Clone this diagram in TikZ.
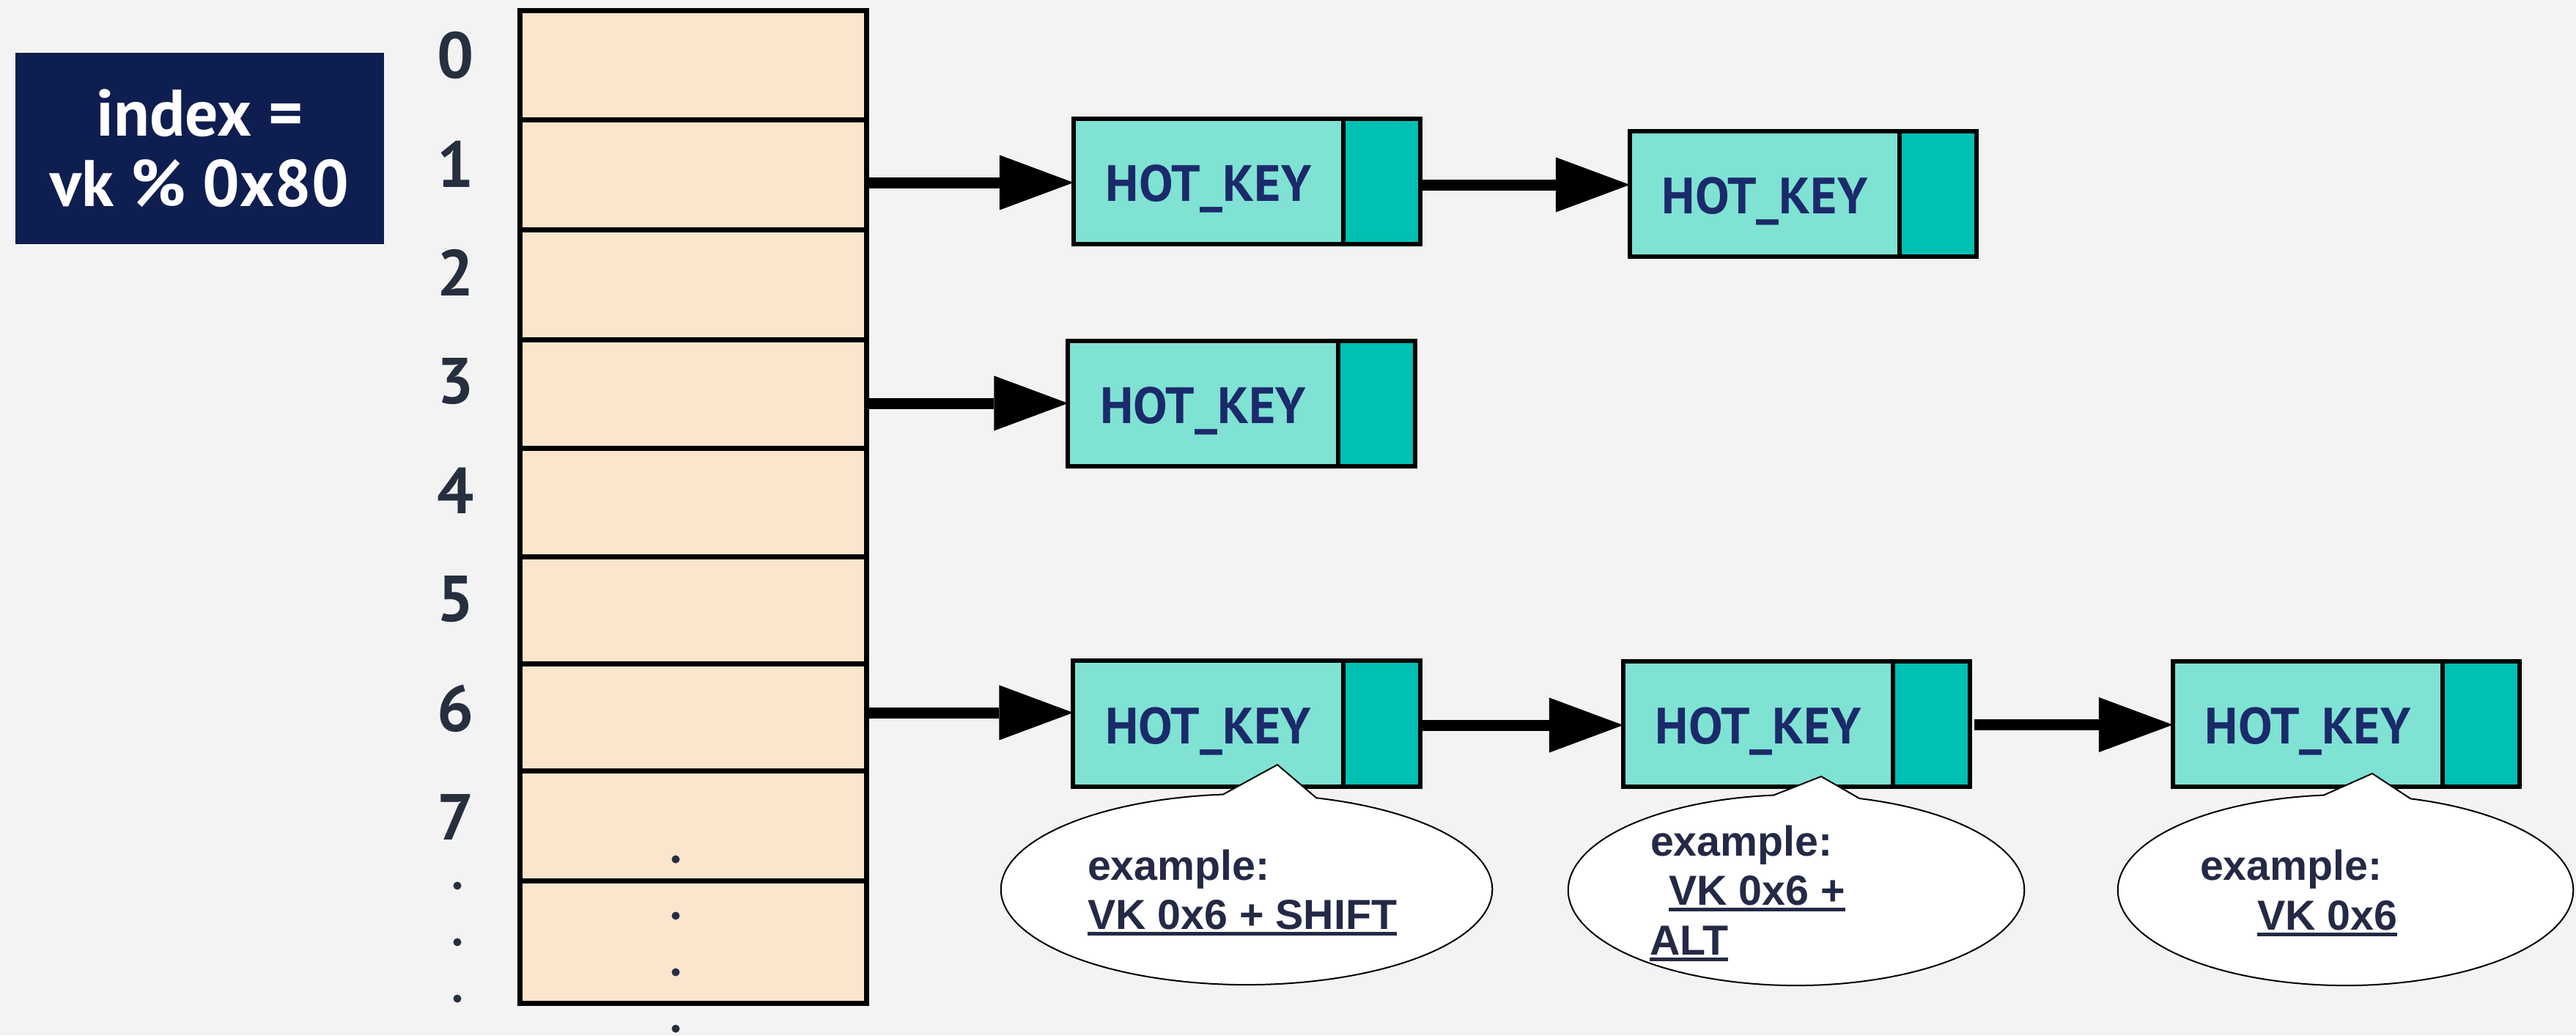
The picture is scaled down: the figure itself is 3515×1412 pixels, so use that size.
\documentclass[tikz,border=0pt]{standalone}
\usepackage{fontspec}
\setmainfont{PT Sans}
\newfontfamily\notefont{Liberation Sans}
\usetikzlibrary{arrows.meta}

\definecolor{bg}{HTML}{F3F3F3}
\definecolor{navy}{HTML}{0F1E50}
\definecolor{digit}{HTML}{262F3E}
\definecolor{peach}{HTML}{FCE5CD}
\definecolor{keylight}{HTML}{7FE2D3}
\definecolor{keydark}{HTML}{00BFB3}
\definecolor{keytext}{HTML}{1B2A6A}
\definecolor{notetext}{HTML}{242A45}

% underlined text with a heavy rule just below the baseline
\newcommand\ulinetext[1]{\setbox0=\hbox{#1}\rlap{\rule[-2.55pt]{\wd0}{1.42pt}}\box0}

\begin{document}
\begin{tikzpicture}[x=0.01cm, y=-0.01cm,
  cell/.style={draw=black, line width=0.07cm, fill=peach, minimum width=4.72cm,
    inner sep=0pt, outer sep=0pt},
  idx/.style={inner sep=0pt, text=digit,
    font=\bfseries\fontsize{25.2pt}{25.2pt}\selectfont},
  keybox/.style={draw=black, line width=0.06cm, fill=keylight, minimum width=3.68cm,
    minimum height=1.71cm, inner sep=0pt, outer sep=0pt, text=keytext,
    text height=0.547cm, text depth=0pt,
    font=\bfseries\fontsize{19.8pt}{19.8pt}\selectfont},
  keyptr/.style={draw=black, line width=0.06cm, fill=keydark, minimum width=1.05cm,
    minimum height=1.71cm, inner sep=0pt, outer sep=0pt, anchor=west},
  link/.style={line width=0.15cm,
    -{Triangle[length=1.01cm, width=0.75cm, line width=0pt]}},
  callout/.style={draw=black, line width=0.02cm, fill=white},
  note/.style={anchor=base west, inner sep=0pt, outer sep=0pt, text=notetext,
    font=\notefont\bfseries\fontsize{16.3pt}{16.3pt}\selectfont},
  dot/.style={fill=digit}]

% background
\fill[bg] (0,0) rectangle (3515,1412);
\useasboundingbox (0,0) rectangle (3515,1412);

% formula box
\node[fill=navy, minimum width=5.03cm, minimum height=2.61cm, inner sep=0pt,
  text=white, align=center,
  font=\bfseries\fontsize{25.5pt}{27.3pt}\selectfont] (formula) at (272.5,202.5)
  {index =\\vk \% 0x80};

% hash table column
\node[cell, minimum height=1.49cm] (r0) at (946,89.5) {};
\node[cell, minimum height=1.50cm] (r1) at (946,239) {};
\node[cell, minimum height=1.50cm] (r2) at (946,389) {};
\node[cell, minimum height=1.48cm] (r3) at (946,538) {};
\node[cell, minimum height=1.48cm] (r4) at (946,686) {};
\node[cell, minimum height=1.46cm] (r5) at (946,833) {};
\node[cell, minimum height=1.46cm] (r6) at (946,979) {};
\node[cell, minimum height=1.50cm] (r7) at (946,1127) {};
\node[cell, minimum height=1.66cm] (r8) at (946,1285) {};

% indices
\node[idx] (d0) at (622,75) {0};
\node[idx] (d1) at (622,223.5) {1};
\node[idx] (d2) at (622,372) {2};
\node[idx] (d3) at (622,520.5) {3};
\node[idx] (d4) at (622,669) {4};
\node[idx] (d5) at (622,817.5) {5};
\node[idx] (d6) at (622,966) {6};
\node[idx] (d7) at (622,1114.5) {7};

% ellipsis dots
\fill[dot] (624,1208) circle[radius=0.055cm];
\fill[dot] (624,1285) circle[radius=0.055cm];
\fill[dot] (624,1362) circle[radius=0.055cm];
\fill[dot] (922,1172) circle[radius=0.055cm];
\fill[dot] (922,1249) circle[radius=0.055cm];
\fill[dot] (922,1326) circle[radius=0.055cm];
\fill[dot] (922,1403) circle[radius=0.055cm];

% HOT_KEY list entries
\node[keybox] (A1) at (1649,247.5) {HOT\_KEY};
\node[keyptr] (A1p) at (A1.east) {};
\node[keybox] (A2) at (2408,264.5) {HOT\_KEY};
\node[keyptr] (A2p) at (A2.east) {};
\node[keybox] (B1) at (1641.5,550.5) {HOT\_KEY};
\node[keyptr] (B1p) at (B1.east) {};
\node[keybox] (C1) at (1648.5,987) {HOT\_KEY};
\node[keyptr] (C1p) at (C1.east) {};
\node[keybox] (C2) at (2399,987.5) {HOT\_KEY};
\node[keyptr] (C2p) at (C2.east) {};
\node[keybox] (C3) at (3149,987.5) {HOT\_KEY};
\node[keyptr] (C3p) at (C3.east) {};

% links
\draw[link] ([yshift=-0.10cm]r1.east) -- ([yshift=-0.10cm]r1.east -| A1.west);
\draw[link] ([yshift=-0.045cm]A1p.east) -- ([yshift=-0.045cm]A1p.east -| A2.west);
\draw[link] ([yshift=-0.12cm]r3.east) -- ([yshift=-0.12cm]r3.east -| B1.west);
\draw[link] ([yshift=0.07cm]r6.east) -- ([yshift=0.07cm]r6.east -| C1.west);
\draw[link] ([yshift=-0.02cm]C1p.east) -- ([yshift=-0.02cm]C1p.east -| C2.west);
\draw[link] ([xshift=0.06cm,yshift=-0.01cm]C2p.east) -- ([yshift=-0.01cm]C2p.east -| C3.west);

% callouts
\coordinate (c1) at (1701,1213);
\coordinate (t1) at (1743,1043);
\coordinate (c2) at (2451,1214);
\coordinate (t2) at (2485,1059);
\coordinate (c3) at (3200.5,1214);
\coordinate (t3) at (3237,1055);

\draw[callout] ([shift={(73.5:3.35cm and 1.3cm)}]c1)
  arc[start angle=73.5, end angle=-264.5, x radius=3.35cm, y radius=1.3cm]
  -- (t1) -- cycle;
\draw[callout] ([shift={(73.9:3.11cm and 1.3cm)}]c2)
  arc[start angle=73.9, end angle=-264.3, x radius=3.11cm, y radius=1.3cm]
  -- (t2) -- cycle;
\draw[callout] ([shift={(73.4:3.105cm and 1.3cm)}]c3)
  arc[start angle=73.4, end angle=-264.5, x radius=3.105cm, y radius=1.3cm]
  -- (t3) -- cycle;

\node[note] (n1a) at (1484,1200) {example:};
\node[note] (n1b) at (1484,1267) {\ulinetext{VK 0x6 + SHIFT}};
\node[note] (n2a) at (2252,1167) {example:};
\node[note] (n2b) at (2277,1234) {\ulinetext{VK 0x6 +}};
\node[note] (n2c) at (2251,1302) {\ulinetext{ALT}};
\node[note] (n3a) at (3002,1200) {example:};
\node[note] (n3b) at (3080,1268) {\ulinetext{VK 0x6}};
\end{tikzpicture}
\end{document}
